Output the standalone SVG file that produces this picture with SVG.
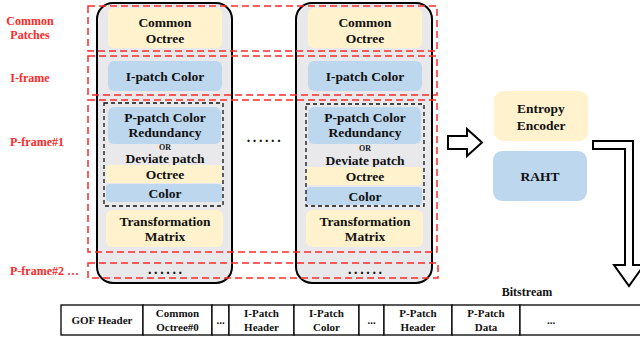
<svg xmlns="http://www.w3.org/2000/svg" width="640" height="341" viewBox="0 0 640 341">
<style>
text{font-family:"Liberation Serif","Times New Roman",serif;font-weight:bold;fill:#111;text-anchor:middle}
.t{font-size:13.5px}
.s{font-size:11px}
.or{font-size:8px}
.dots{font-size:14px;letter-spacing:2.6px}
.red{fill:#ff2a2a;font-size:12px}
.col{fill:#e9e8ea;stroke:#000;stroke-width:2}
.y{fill:#fff2cc}
.b{fill:#bdd7ee}
.rd{fill:none;stroke:#ff2a2a;stroke-width:1.5;stroke-dasharray:7 4}
.bd{fill:none;stroke:#111;stroke-width:1.3;stroke-dasharray:4 3}
.cell{fill:#fff;stroke:#000;stroke-width:1.3}
.arr{fill:#fff;stroke:#000;stroke-width:2;stroke-linejoin:miter}
</style>

<g id="labels">
<text class="red" x="30" y="25">Common</text>
<text class="red" x="30" y="39">Patches</text>
<text class="red" x="30" y="82">I-frame</text>
<text class="red" x="37" y="146">P-frame#1</text>
<text class="red" x="10" y="275" style="text-anchor:start">P-frame#2 …</text>
</g>

<g id="column1">
<rect class="col" x="97" y="3" width="135" height="280" rx="16"/>
<g id="c1-common-octree"><rect class="y" x="108" y="8" width="114" height="40" rx="6"/><text class="t" x="165" y="27">Common</text><text class="t" x="165" y="43">Octree</text></g>
<g id="c1-ipatch"><rect class="b" x="108" y="61" width="114" height="30" rx="6"/><text class="t" x="165" y="81">I-patch Color</text></g>
<g id="c1-ppatch"><rect class="b" x="108" y="107" width="113" height="37" rx="6"/><text class="t" x="165" y="122">P-patch Color</text><text class="t" x="165" y="137">Redundancy</text></g>
<text class="or" x="165" y="149.5">OR</text>
<text class="t" x="165" y="163">Deviate patch</text>
<g id="c1-octree"><rect class="y" x="106" y="165" width="116" height="18" rx="4"/><text class="t" x="165" y="179">Octree</text></g>
<g id="c1-color"><rect class="b" x="106" y="184" width="116" height="18" rx="4"/><text class="t" x="165" y="198">Color</text></g>
<rect class="bd" x="104" y="103" width="119" height="103"/>
<g id="c1-transform"><rect class="y" x="106" y="210" width="117" height="37" rx="6"/><text class="t" x="165" y="226">Transformation</text><text class="t" x="165" y="241">Matrix</text></g>
<text class="dots" x="166.3" y="274">......</text>
</g>

<g id="column2">
<rect class="col" x="296" y="3" width="136" height="280" rx="16"/>
<g id="c2-common-octree"><rect class="y" x="308" y="8" width="114" height="40" rx="6"/><text class="t" x="365" y="27">Common</text><text class="t" x="365" y="43">Octree</text></g>
<g id="c2-ipatch"><rect class="b" x="308" y="61" width="114" height="30" rx="6"/><text class="t" x="365" y="81">I-patch Color</text></g>
<g id="c2-ppatch"><rect class="b" x="308" y="107" width="113" height="37" rx="6"/><text class="t" x="365" y="122">P-patch Color</text><text class="t" x="365" y="137">Redundancy</text></g>
<text class="or" x="365" y="151">OR</text>
<text class="t" x="365" y="165">Deviate patch</text>
<g id="c2-octree"><rect class="y" x="306" y="167" width="116" height="18" rx="4"/><text class="t" x="365" y="181">Octree</text></g>
<g id="c2-color"><rect class="b" x="306" y="187" width="116" height="18" rx="4"/><text class="t" x="365" y="201">Color</text></g>
<rect class="bd" x="306" y="104" width="118" height="102"/>
<g id="c2-transform"><rect class="y" x="306" y="210" width="117" height="37" rx="6"/><text class="t" x="365" y="226">Transformation</text><text class="t" x="365" y="241">Matrix</text></g>
<text class="dots" x="366.3" y="274">......</text>
</g>

<g id="frames">
<rect class="rd" x="88" y="6" width="349" height="45"/>
<rect class="rd" x="88" y="56" width="349" height="39"/>
<rect class="rd" x="88" y="100" width="349" height="152"/>
<rect class="rd" x="88" y="263" width="350" height="15"/>
</g>

<text class="dots" x="265" y="142">......</text>

<g id="entropy"><rect class="y" x="494" y="91" width="94" height="50" rx="9"/><text class="t" x="541" y="113">Entropy</text><text class="t" x="541" y="130">Encoder</text></g>
<g id="raht"><rect class="b" x="493" y="151" width="94" height="50" rx="9"/><text class="t" x="540" y="181">RAHT</text></g>

<g id="connectors">
<polygon class="arr" points="448,136 467,136 467,129 482,142.5 467,156 467,149 448,149"/>
<polygon class="arr" points="593,141 633,141 633,265 644,265 629,286 614,265 625,265 625,149 593,149"/>
</g>

<text class="red" x="527" y="296" style="fill:#111">Bitstream</text>

<g id="bitstream">
<rect class="cell" x="61" y="305" width="82" height="30"/>
<rect class="cell" x="143" y="305" width="69" height="30"/>
<rect class="cell" x="212" y="305" width="17" height="30"/>
<rect class="cell" x="229" y="305" width="65" height="30"/>
<rect class="cell" x="294" y="305" width="65" height="30"/>
<rect class="cell" x="359" y="305" width="25" height="30"/>
<rect class="cell" x="384" y="305" width="68" height="30"/>
<rect class="cell" x="452" y="305" width="68" height="30"/>
<rect class="cell" x="520" y="305" width="122" height="30"/>
<text class="s" x="102" y="324">GOF Header</text>
<text class="s" x="177.5" y="317">Common</text><text class="s" x="177.5" y="331">Octree#0</text>
<text class="s" x="220.5" y="324">...</text>
<text class="s" x="261.5" y="317">I-Patch</text><text class="s" x="261.5" y="331">Header</text>
<text class="s" x="326.5" y="317">I-Patch</text><text class="s" x="326.5" y="331">Color</text>
<text class="s" x="371.5" y="324">...</text>
<text class="s" x="418" y="317">P-Patch</text><text class="s" x="418" y="331">Header</text>
<text class="s" x="486" y="317">P-Patch</text><text class="s" x="486" y="331">Data</text>
<text class="s" x="551" y="324">...</text>
</g>
</svg>
